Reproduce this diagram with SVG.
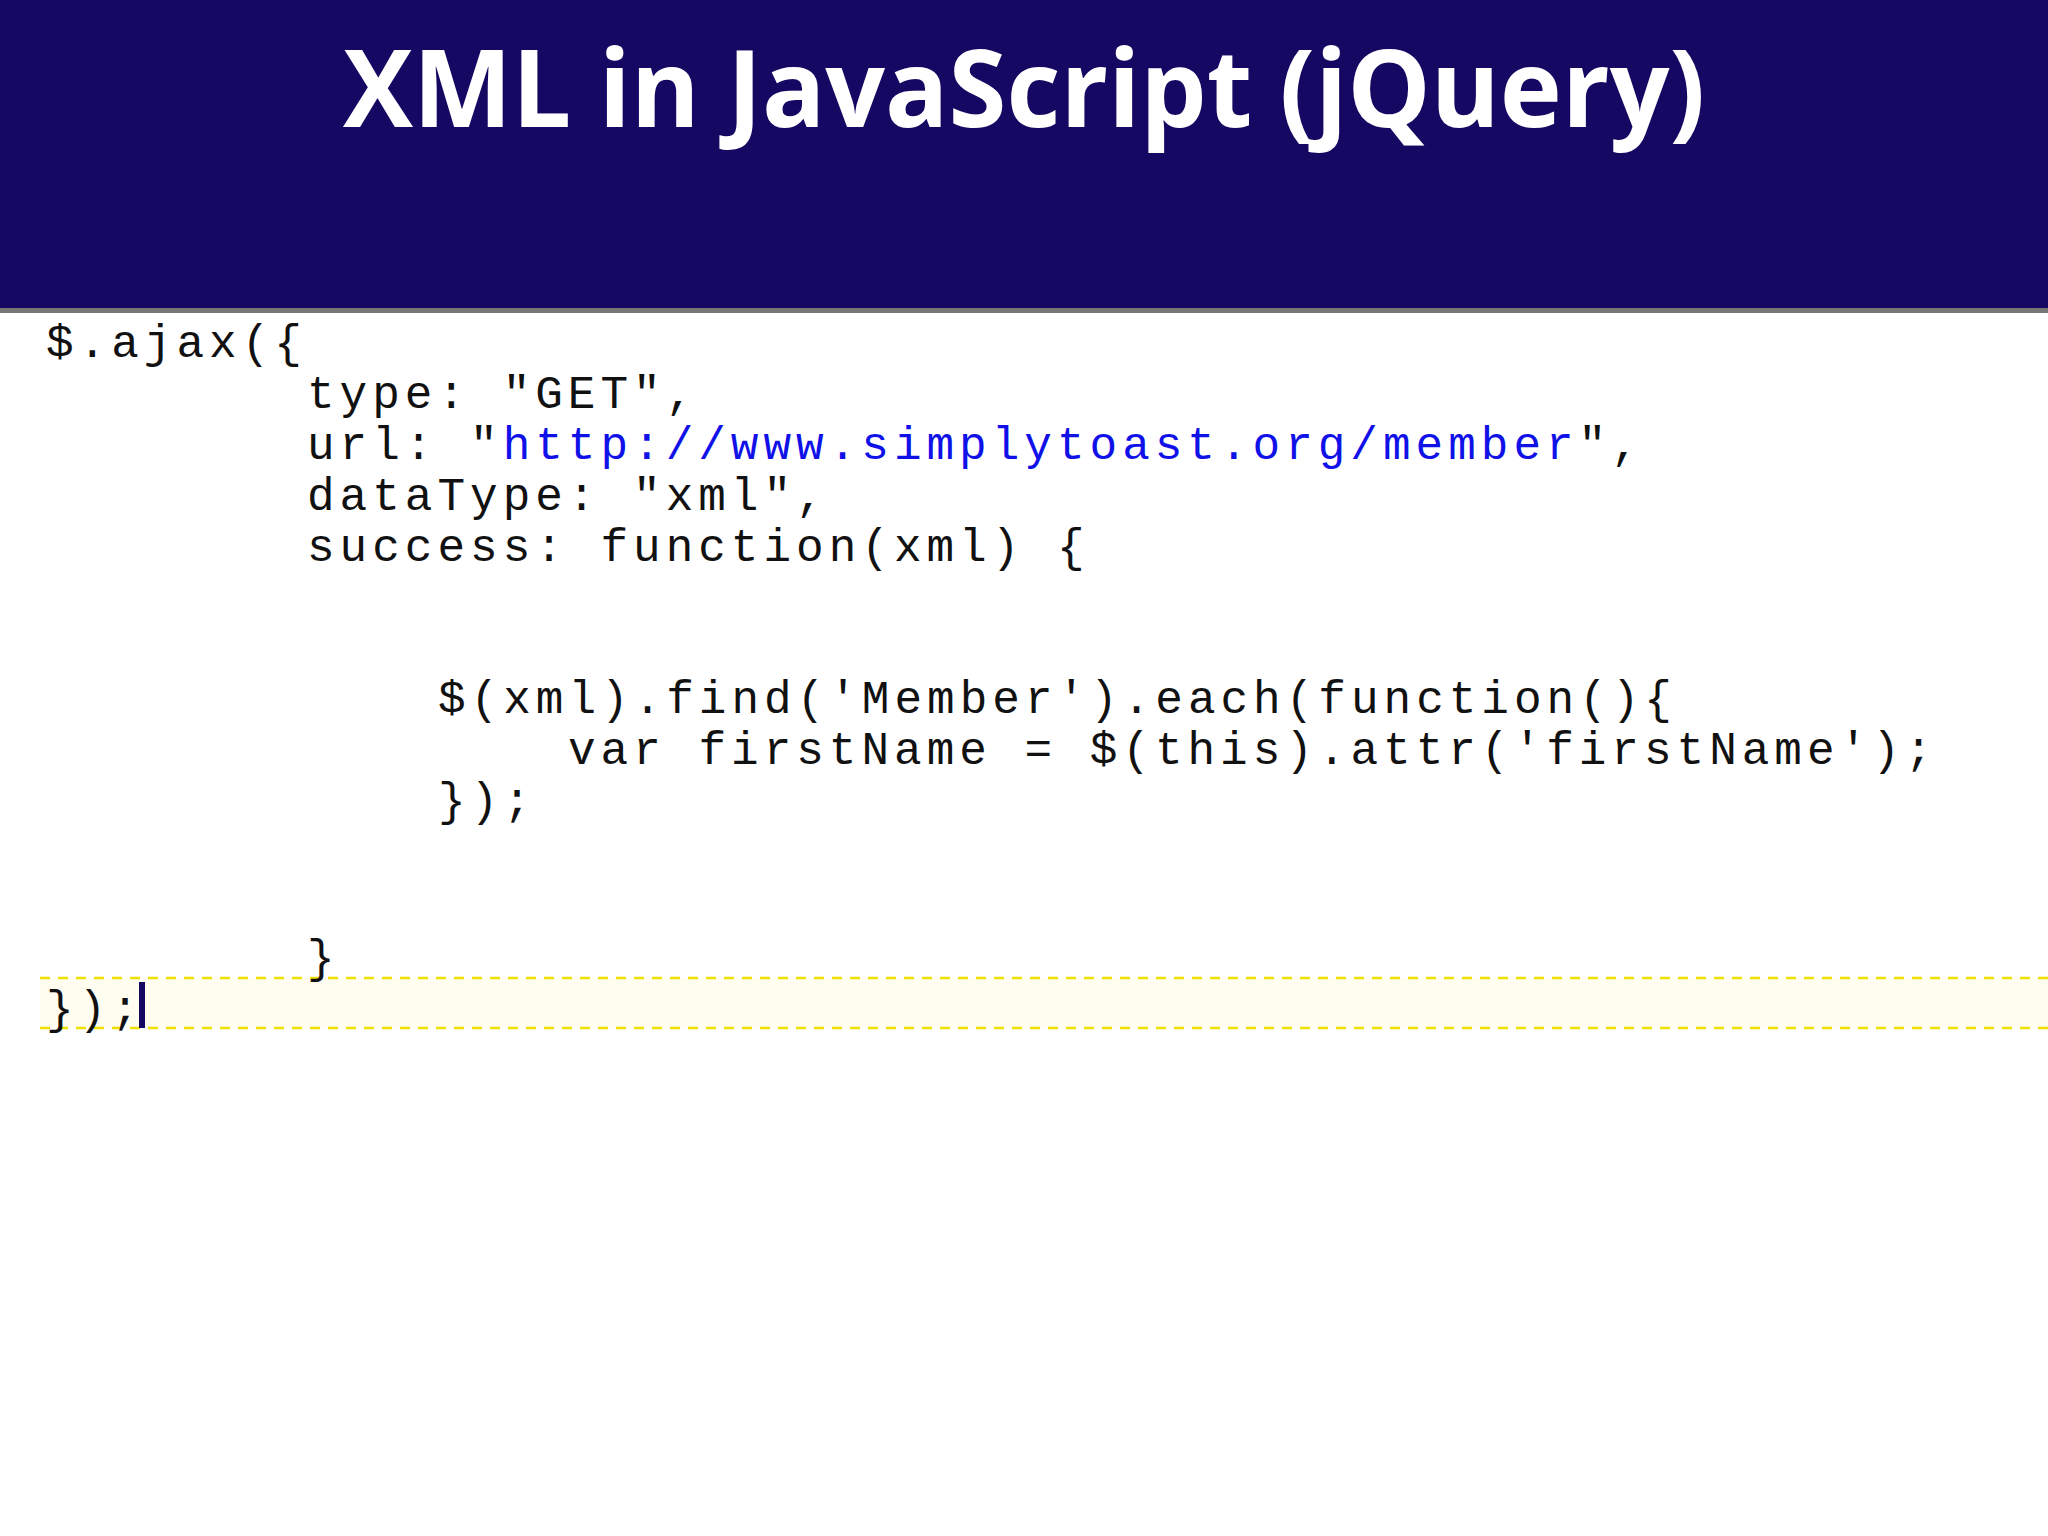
<svg xmlns="http://www.w3.org/2000/svg" width="2048" height="1536" viewBox="0 0 2048 1536">
<style>
.c{font-family:"Liberation Mono","DejaVu Sans Mono",monospace;font-size:46px;letter-spacing:5px;fill:#111}
.u{fill:#1010e8}
</style>
<rect width="2048" height="1536" fill="#fff"/>
<g id="header">
<rect width="2048" height="308" fill="#140862"/>
<rect y="308" width="2048" height="5" fill="#777"/>
<text x="1024" y="127" text-anchor="middle" font-family="'Open Sans','Liberation Sans',sans-serif" font-weight="bold" font-size="108" fill="#fff" textLength="1362" lengthAdjust="spacingAndGlyphs">XML in JavaScript (jQuery)</text>
</g>
<g id="highlight">
<rect x="40" y="978" width="2008" height="50" fill="#fffdf0"/>
<line x1="40" y1="978" x2="2048" y2="978" stroke="#f0e000" stroke-width="2.5" stroke-dasharray="10,8"/>
<line x1="40" y1="1028" x2="2048" y2="1028" stroke="#f0e000" stroke-width="2.5" stroke-dasharray="10,8"/>
<rect x="139" y="982" width="6" height="46" fill="#140862"/>
</g>
<g id="code">
<text class="c" x="46" y="357">$.ajax({</text>
<text class="c" x="307" y="408">type: "GET",</text>
<text class="c" x="307" y="459">url: "<tspan class="u">http://www.simplytoast.org/member</tspan>",</text>
<text class="c" x="307" y="510">dataType: "xml",</text>
<text class="c" x="307" y="561">success: function(xml) {</text>
<text class="c" x="438" y="713">$(xml).find('Member').each(function(){</text>
<text class="c" x="568" y="764">var firstName = $(this).attr('firstName');</text>
<text class="c" x="438" y="815">});</text>
<text class="c" x="307" y="972">}</text>
<text class="c" x="46" y="1023">});</text>
</g>
</svg>
